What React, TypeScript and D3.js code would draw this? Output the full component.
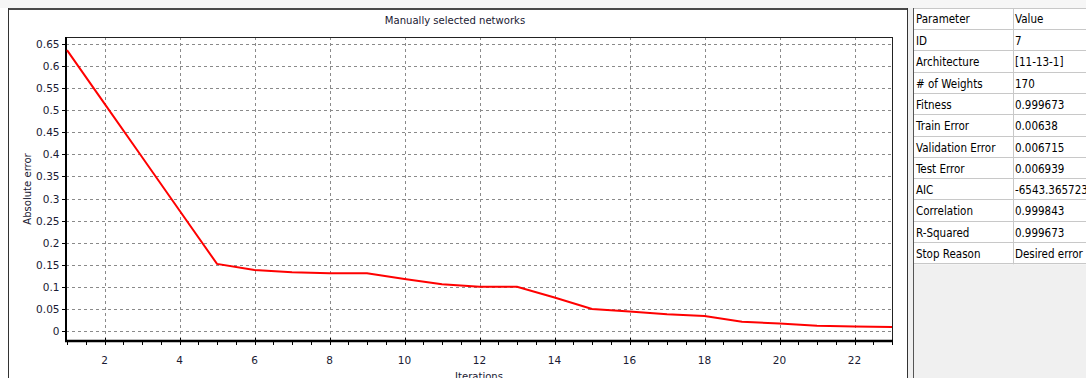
import React from "react";
import * as d3 from "d3";

const iterations = [1, 2, 3, 4, 5, 6, 7, 8, 9, 10, 11, 12, 13, 14, 15, 16, 17, 18, 19, 20, 21, 22, 23];
const absError = [0.636, 0.515, 0.394, 0.273, 0.152, 0.138, 0.133, 0.131, 0.131, 0.118, 0.106, 0.1, 0.1, 0.076, 0.05, 0.044, 0.038, 0.034, 0.021, 0.017, 0.012, 0.01, 0.009];
const yTicks = [0, 0.05, 0.1, 0.15, 0.2, 0.25, 0.3, 0.35, 0.4, 0.45, 0.5, 0.55, 0.6, 0.65];
const xTicks = [2, 4, 6, 8, 10, 12, 14, 16, 18, 20, 22];
const xMinorTicks = [1, 1.5, 2, 2.5, 3, 3.5, 4, 4.5, 5, 5.5, 6, 6.5, 7, 7.5, 8, 8.5, 9, 9.5, 10, 10.5, 11, 11.5, 12, 12.5, 13, 13.5, 14, 14.5, 15, 15.5, 16, 16.5, 17, 17.5, 18, 18.5, 19, 19.5, 20, 20.5, 21, 21.5, 22, 22.5, 23];
const paramNames = ["ID", "Architecture", "# of Weights", "Fitness", "Train Error", "Validation Error", "Test Error", "AIC", "Correlation", "R-Squared", "Stop Reason"];
const paramValues = ["7", "[11-13-1]", "170", "0.999673", "0.00638", "0.006715", "0.006939", "-6543.365723", "0.999843", "0.999673", "Desired error achieved"];

const FONT = "'DejaVu Sans Condensed', 'DejaVu Sans', sans-serif";
const TICKFONT = "'DejaVu Sans', sans-serif";

export default function App() {
  const W = 1086, H = 378;
  const pl = 66, pr = 892, pt = 37, pb = 341;
  const x = d3.scaleLinear().domain([1, 23]).range([67, 892]);
  const y = d3.scaleLinear().domain([-0.02265, 0.66585]).range([pb, pt]);
  const line = d3.line<number>().x((_, i) => x(iterations[i])).y((d) => y(d));
  const fmt = (v: number) => d3.format("")(+v.toFixed(2));

  const tCol = 1013, tTop = 8, headH = 22, rowH = 21.3;
  const tBottom = tTop + headH + rowH * paramNames.length;

  return (
    <div style={{ position: "absolute", left: 0, top: 0 }}>
      <svg width={W} height={H} style={{ display: "block" }} fontFamily={FONT}>
        <rect x={0} y={0} width={W} height={H} fill="#ffffff" />
        <rect x={0} y={0} width={908} height={8} fill="#f6f6f6" />
        {/* chart frame */}
        <line x1={8} x2={908} y1={9} y2={9} stroke="#4a4a4a" strokeWidth={2} />
        <line x1={8.5} x2={8.5} y1={8} y2={H} stroke="#333" strokeWidth={1} />
        <line x1={907.5} x2={907.5} y1={8} y2={H} stroke="#333" strokeWidth={1} />
        <text x={455} y={24} textAnchor="middle" fontSize={11.2} fill="#1a1a33">Manually selected networks</text>

        {/* grid */}
        <g stroke="#8a8a8a" strokeWidth={1} strokeDasharray="3,3">
          {yTicks.map((t) => (
            <line key={"gy" + t} x1={pl} x2={pr} y1={Math.round(y(t)) + 0.5} y2={Math.round(y(t)) + 0.5} />
          ))}
          {xTicks.map((t) => (
            <line key={"gx" + t} x1={Math.round(x(t)) + 0.5} x2={Math.round(x(t)) + 0.5} y1={pt} y2={pb} />
          ))}
        </g>

        {/* borders */}
        <line x1={pl} x2={pr} y1={pt + 0.5} y2={pt + 0.5} stroke="#222" strokeWidth={1} />
        <line x1={pr + 0.5} x2={pr + 0.5} y1={pt} y2={pb} stroke="#222" strokeWidth={1} />
        <line x1={pl} x2={pl} y1={pt} y2={pb + 1} stroke="#000" strokeWidth={2} />
        <line x1={pl - 1} x2={pr + 1} y1={pb} y2={pb} stroke="#000" strokeWidth={2.5} />

        {/* ticks */}
        <g stroke="#000" strokeWidth={1}>
          {xMinorTicks.map((t) => (
            <line key={"mx" + t} x1={Math.round(x(t)) + 0.5} x2={Math.round(x(t)) + 0.5} y1={pb} y2={pb + 4} />
          ))}
          {xTicks.map((t) => (
            <line key={"Mx" + t} x1={Math.round(x(t)) + 0.5} x2={Math.round(x(t)) + 0.5} y1={pb - 3} y2={pb + 4} />
          ))}
          {yTicks.map((t) => (
            <line key={"ty" + t} x1={pl - 4} x2={pl} y1={Math.round(y(t)) + 0.5} y2={Math.round(y(t)) + 0.5} />
          ))}
        </g>
        {xTicks.map((t) => (
          <text key={"lx" + t} x={x(t)} y={364} textAnchor="middle" fontSize={10.5} fontFamily={TICKFONT} fill="#1a1a33">{t}</text>
        ))}
        {yTicks.map((t) => (
          <text key={"ly" + t} x={59.5} y={y(t) + 4} textAnchor="end" fontSize={10.5} fontFamily={TICKFONT} fill="#1a1a33">{fmt(t)}</text>
        ))}
        <text x={(pl + pr) / 2} y={380} textAnchor="middle" fontSize={11.2} fill="#1a1a33">Iterations</text>
        <text transform={`translate(31,${(pt + pb) / 2}) rotate(-90)`} textAnchor="middle" fontSize={11.2} fill="#1a1a33">Absolute error</text>

        {/* series */}
        <path d={line(absError) || ""} fill="none" stroke="#ff0000" strokeWidth={2} />

        {/* table panel */}
        <rect x={908} y={0} width={W - 908} height={H} fill="#f0f0f0" />
        <rect x={908} y={0} width={W - 908} height={8} fill="#f6f6f6" />
        <line x1={913.5} x2={913.5} y1={8} y2={H} stroke="#555" strokeWidth={1} />
        <rect x={914} y={tTop} width={W - 914} height={tBottom - tTop} fill="#ffffff" />
        <g stroke="#c8c8c8" strokeWidth={1}>
          <line x1={914} x2={W} y1={tTop + 0.5} y2={tTop + 0.5} />
          <line x1={914} x2={W} y1={tTop + headH - 0.5} y2={tTop + headH - 0.5} />
          {paramNames.map((_, i) => {
            const yy = Math.round(tTop + headH + rowH * (i + 1)) - 0.5;
            return <line key={"rl" + i} x1={914} x2={W} y1={yy} y2={yy} />;
          })}
          <line x1={tCol + 0.5} x2={tCol + 0.5} y1={tTop} y2={tBottom} />
        </g>
        <text x={916} y={tTop + 15} fontSize={11.5} fill="#000">Parameter</text>
        <text x={tCol + 2} y={tTop + 15} fontSize={11.5} fill="#000">Value</text>
        {paramNames.map((p, i) => (
          <text key={"pn" + i} x={916} y={tTop + headH + rowH * i + 15} fontSize={11.5} fill="#000">{p}</text>
        ))}
        {paramValues.map((v, i) => (
          <text key={"pv" + i} x={tCol + 2} y={tTop + headH + rowH * i + 15} fontSize={11.5} fill="#000">{v}</text>
        ))}
      </svg>
    </div>
  );
}
